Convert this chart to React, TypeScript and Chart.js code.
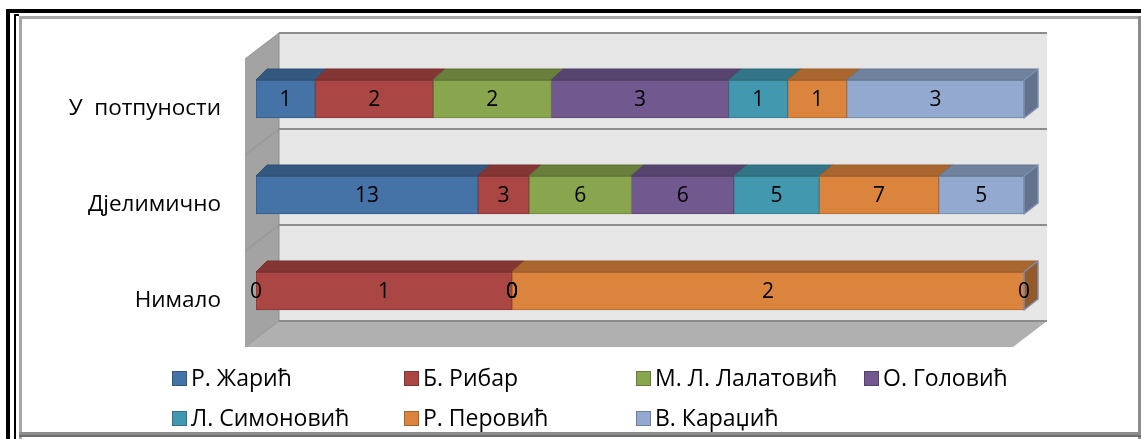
import { useEffect, useRef } from "react";
import { Chart, registerables } from "chart.js";

Chart.register(...registerables);

// Answer categories (rows of the stacked bar)
const categories = ["У  потпуности", "Дјелимично", "Нимало"];

// Respondents (series)
const seriesNames = [
  "Р. Жарић",
  "Б. Рибар",
  "М. Л. Лалатовић",
  "О. Головић",
  "Л. Симоновић",
  "Р. Перовић",
  "В. Караџић",
];

// Counts per category: [У потпуности, Дјелимично, Нимало]
const zaric = [1, 13, 0];
const ribar = [2, 3, 1];
const lalatovic = [2, 6, 0];
const golovic = [3, 6, 0];
const simonovic = [1, 5, 0];
const perovic = [1, 7, 2];
const karadzic = [3, 5, 0];

const seriesCounts = [zaric, ribar, lalatovic, golovic, simonovic, perovic, karadzic];

const fillColors = ["#4572A7", "#AA4643", "#89A54E", "#71588F", "#4198AF", "#DB843D", "#93A9CF"];

const FONT = "'Open Sans', 'Noto Sans', sans-serif";

function shade(hex: string, f: number): string {
  const n = parseInt(hex.slice(1), 16);
  const r = Math.round(((n >> 16) & 255) * f);
  const g = Math.round(((n >> 8) & 255) * f);
  const b = Math.round((n & 255) * f);
  return `rgb(${r},${g},${b})`;
}

// Each row is drawn as a 100% stack
const totals = categories.map((_, i) => seriesCounts.reduce((s, c) => s + c[i], 0));
const shares = seriesCounts.map((c) => c.map((v, i) => (totals[i] ? (v / totals[i]) * 100 : 0)));

// Depth of the back wall behind the bar plane, and of the floor / side wall in front of it
const WALL_DX = 23;
const WALL_DY = 18;
const BOX_DX = 34;
const BOX_DY = 26;

function poly(ctx: CanvasRenderingContext2D, pts: number[][], fill: string, stroke?: string, lw = 1) {
  ctx.beginPath();
  ctx.moveTo(pts[0][0], pts[0][1]);
  for (let i = 1; i < pts.length; i++) ctx.lineTo(pts[i][0], pts[i][1]);
  ctx.closePath();
  ctx.fillStyle = fill;
  ctx.fill();
  if (stroke) {
    ctx.strokeStyle = stroke;
    ctx.lineWidth = lw;
    ctx.stroke();
  }
}

const framePlugin = {
  id: "frame",
  beforeDraw(chart: any) {
    const ctx: CanvasRenderingContext2D = chart.ctx;
    const { width, height } = chart;
    ctx.save();
    ctx.fillStyle = "#ffffff";
    ctx.fillRect(0, 0, width, height);
    // double black border on the outside
    ctx.fillStyle = "#000000";
    ctx.fillRect(6, 9, 4, height - 9);
    ctx.fillRect(6, 9, width - 6, 4);
    ctx.fillRect(14, 14, 2, height - 14);
    ctx.fillRect(14, 14, 5, 2);
    // grey inner frame
    ctx.fillStyle = "#a6a6a6";
    ctx.fillRect(19, 16, width - 19, 3);
    ctx.fillRect(19, 16, 3, height - 16);
    ctx.fillStyle = "#8c8c8c";
    ctx.fillRect(width - 3, 16, 3, height - 16);
    ctx.fillRect(19, 432, width - 19, 3);
    ctx.fillStyle = "#6e6e6e";
    ctx.fillRect(19, 435, width - 19, 2);
    ctx.restore();
  },
};

const wallsPlugin = {
  id: "walls",
  beforeDatasetsDraw(chart: any) {
    const ctx: CanvasRenderingContext2D = chart.ctx;
    const { left, right, top, bottom } = chart.chartArea;
    const bl = left + WALL_DX;
    const br = right + WALL_DX;
    const bt = top - WALL_DY;
    const bb = bottom - WALL_DY;
    ctx.save();
    // back wall
    ctx.fillStyle = "#e6e6e6";
    ctx.fillRect(bl, bt, br - bl, bb - bt);
    // side wall
    poly(ctx, [[bl, bt], [bl, bb], [bl - BOX_DX, bb + BOX_DY], [bl - BOX_DX, bt + BOX_DY]], "#a3a3a3");
    // floor
    poly(ctx, [[bl, bb], [br, bb], [br - BOX_DX, bb + BOX_DY], [bl - BOX_DX, bb + BOX_DY]], "#b0b0b0");
    // category grid lines on the back wall and side wall
    const yScale = chart.scales.y;
    const n = yScale.ticks.length;
    const step = (bottom - top) / n;
    for (let i = 0; i <= n; i++) {
      const y = top + i * step - WALL_DY;
      ctx.strokeStyle = "#8c8c8c";
      ctx.lineWidth = 2;
      ctx.beginPath();
      ctx.moveTo(bl, y);
      ctx.lineTo(br, y);
      ctx.stroke();
      ctx.strokeStyle = "#939393";
      ctx.lineWidth = 1;
      ctx.beginPath();
      ctx.moveTo(bl, y);
      ctx.lineTo(bl - BOX_DX, y + BOX_DY);
      ctx.stroke();
    }
    ctx.strokeStyle = "#8c8c8c";
    ctx.lineWidth = 1;
    ctx.beginPath();
    ctx.moveTo(bl, bt);
    ctx.lineTo(bl, bb);
    ctx.stroke();
    ctx.restore();
  },
};

const barsPlugin = {
  id: "bars3d",
  afterDatasetsDraw(chart: any) {
    const ctx: CanvasRenderingContext2D = chart.ctx;
    const { left, right } = chart.chartArea;
    const dy = 11;
    const dxAt = (px: number) => 11 + (3 * (px - left)) / (right - left);
    const nds = chart.data.datasets.length;
    ctx.save();
    ctx.lineJoin = "round";
    // top faces
    for (let d = 0; d < nds; d++) {
      const meta = chart.getDatasetMeta(d);
      const color = fillColors[d];
      meta.data.forEach((el: any) => {
        const { x, base, y, height } = el.getProps(["x", "base", "y", "height"], true);
        const x0 = Math.min(x, base);
        const x1 = Math.max(x, base);
        if (x1 - x0 < 0.5) return;
        const t = y - height / 2;
        poly(
          ctx,
          [[x0, t], [x1, t], [x1 + dxAt(x1), t - dy], [x0 + dxAt(x0), t - dy]],
          shade(color, 0.77),
          shade(color, 0.7),
          1
        );
      });
    }
    // right end faces of each stack
    const lastMeta = chart.getDatasetMeta(nds - 1);
    lastMeta.data.forEach((el: any, i: number) => {
      const { x, y, height } = el.getProps(["x", "y", "height"], true);
      let fillIdx = nds - 1;
      while (fillIdx > 0 && seriesCounts[fillIdx][i] === 0) fillIdx--;
      const t = y - height / 2;
      const b = y + height / 2;
      const dx = dxAt(x);
      poly(
        ctx,
        [[x, t], [x + dx, t - dy], [x + dx, b - dy], [x, b]],
        shade(fillColors[fillIdx], 0.68),
        shade(fillColors[nds - 1], 0.85),
        1.5
      );
    });
    // value labels
    ctx.fillStyle = "#000000";
    ctx.font = `21px ${FONT}`;
    ctx.textAlign = "center";
    ctx.textBaseline = "middle";
    for (let d = 0; d < nds; d++) {
      const meta = chart.getDatasetMeta(d);
      meta.data.forEach((el: any, i: number) => {
        const { x, base, y } = el.getProps(["x", "base", "y"], true);
        ctx.fillText(String(seriesCounts[d][i]), (x + base) / 2, y + 1);
      });
    }
    ctx.restore();
  },
};

const legendPlugin = {
  id: "gridLegend",
  afterDraw(chart: any) {
    const ctx: CanvasRenderingContext2D = chart.ctx;
    const cols = [172, 404, 636, 864];
    const rows = [378, 418];
    ctx.save();
    ctx.font = `23px ${FONT}`;
    ctx.textAlign = "left";
    ctx.textBaseline = "middle";
    chart.data.datasets.forEach((ds: any, i: number) => {
      const cx = cols[i % 4];
      const cy = rows[Math.floor(i / 4)];
      ctx.fillStyle = fillColors[i];
      ctx.fillRect(cx, cy - 7, 15, 15);
      ctx.strokeStyle = shade(fillColors[i], 0.75);
      ctx.lineWidth = 1;
      ctx.strokeRect(cx + 0.5, cy - 6.5, 14, 14);
      ctx.fillStyle = "#000000";
      ctx.fillText(ds.label, cx + 19, cy + 1);
    });
    ctx.restore();
  },
};

export default function App() {
  const canvasRef = useRef<HTMLCanvasElement | null>(null);

  useEffect(() => {
    const canvas = canvasRef.current;
    if (!canvas) return;
    const chart = new Chart(canvas, {
      type: "bar",
      data: {
        labels: categories,
        datasets: seriesNames.map((name, d) => ({
          label: name,
          data: shares[d],
          backgroundColor: fillColors[d],
          borderColor: shade(fillColors[d], 0.8),
          borderWidth: 1,
          borderSkipped: false,
          barThickness: 38,
        })),
      },
      options: {
        indexAxis: "y",
        responsive: false,
        animation: false,
        devicePixelRatio: 1,
        events: [],
        layout: { padding: { top: 51, right: 117, bottom: 100, left: 0 } },
        scales: {
          x: { stacked: true, min: 0, max: 100, display: false },
          y: {
            stacked: true,
            grid: { display: false, drawTicks: false },
            border: { display: false },
            ticks: {
              padding: 35,
              labelOffset: 10,
              color: "#000000",
              font: { family: FONT, size: 22.5 },
            },
            afterFit: (scale: any) => {
              scale.width = 256;
            },
          },
        },
        plugins: {
          legend: { display: false },
          tooltip: { enabled: false },
        },
      } as any,
      plugins: [framePlugin, wallsPlugin, barsPlugin, legendPlugin],
    });
    return () => chart.destroy();
  }, []);

  return (
    <div style={{ position: "fixed", left: 0, top: 0, width: 1141, height: 439, background: "#fff" }}>
      <canvas ref={canvasRef} width={1141} height={439} style={{ display: "block" }} />
    </div>
  );
}
